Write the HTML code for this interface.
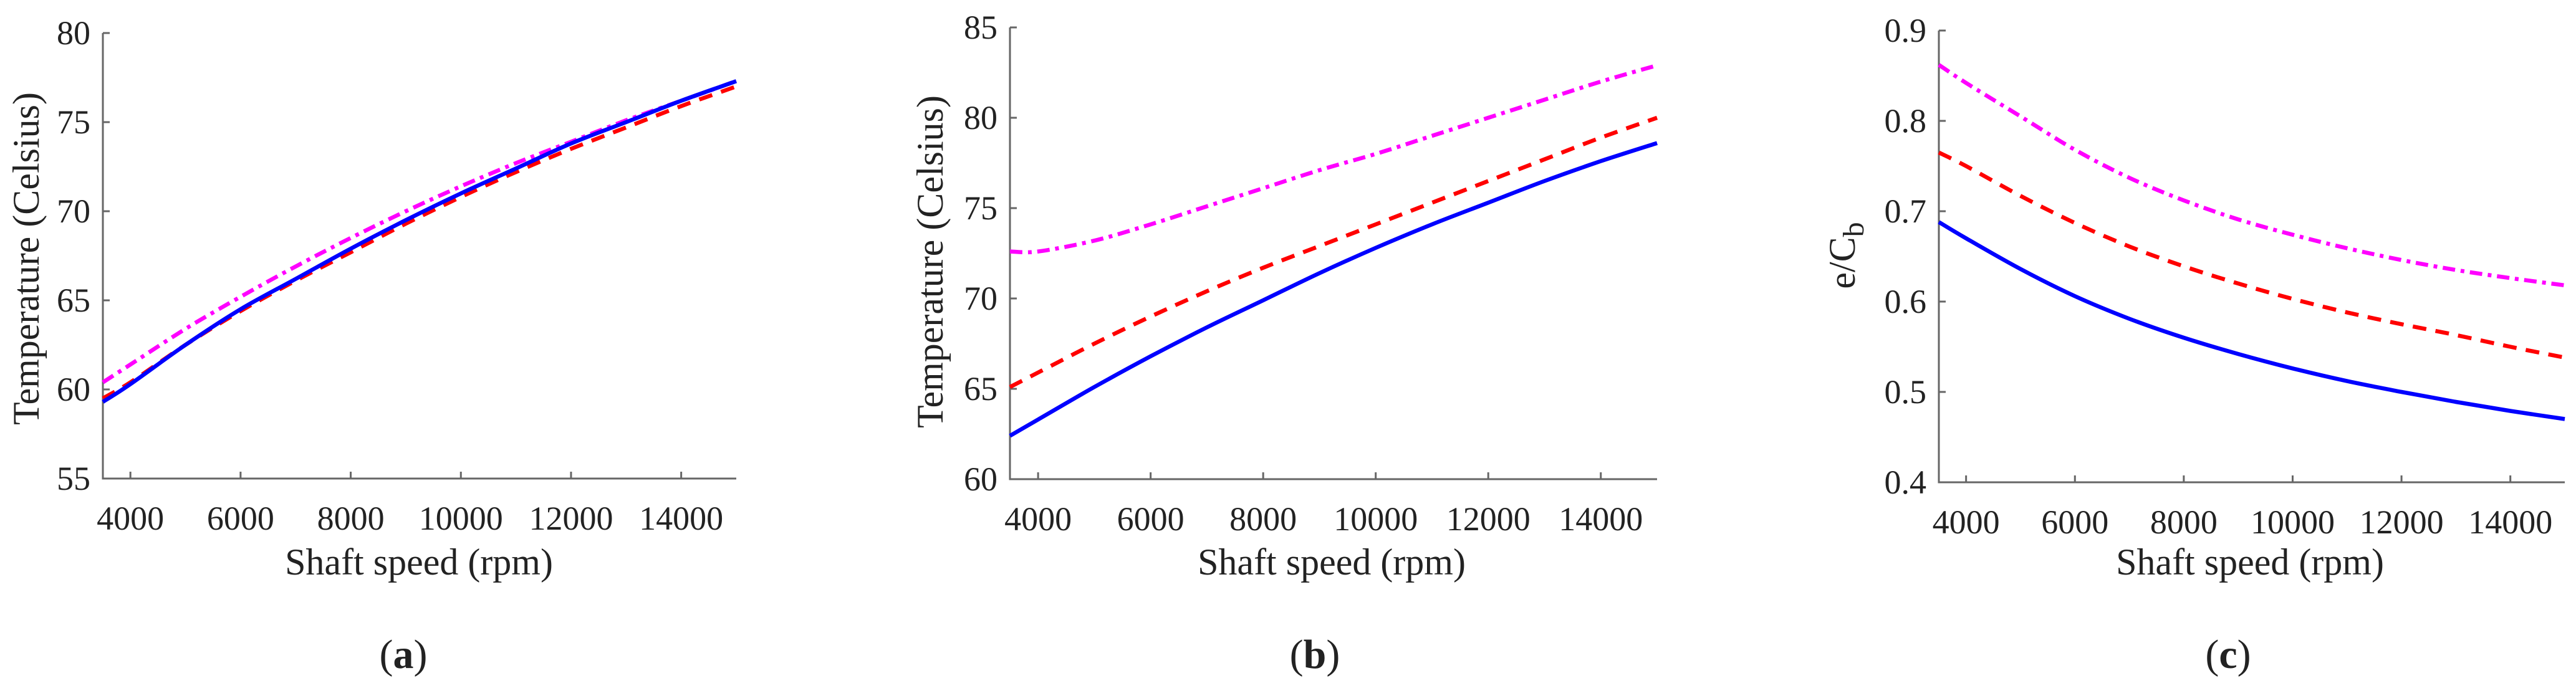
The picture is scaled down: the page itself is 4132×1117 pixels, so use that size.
<!DOCTYPE html>
<html><head><meta charset="utf-8">
<style>
html,body{margin:0;padding:0;background:#fff;}
svg{display:block;}
svg text{font-family:"Liberation Serif","Times New Roman","DejaVu Serif",serif;fill:#222;}
</style></head>
<body>
<svg id="fig" width="4132" height="1117" viewBox="0 0 4132 1117" xmlns="http://www.w3.org/2000/svg"></svg>
<script>
const speeds = [3500,4000,5000,6000,7000,8000,9000,10000,11000,12000,13000,14000,15000];
const xTicks = [4000,6000,8000,10000,12000,14000];

const aBlue = [59.3,60.3,62.5,64.5,66.2,67.9,69.5,71.0,72.4,73.8,75.0,76.2,77.3];
const aRed = [59.5,60.4,62.5,64.4,66.1,67.7,69.3,70.8,72.2,73.5,74.7,75.9,77.0];
const aMagenta = [60.4,61.4,63.4,65.2,66.9,68.5,70.0,71.4,72.7,73.9,75.1,76.2,77.3];
const aYTicks = [55,60,65,70,75,80];

const bBlue = [62.4,63.3,65.1,66.8,68.4,69.9,71.4,72.8,74.1,75.3,76.5,77.6,78.6];
const bRed = [65.1,65.9,67.5,69.0,70.4,71.7,72.9,74.1,75.3,76.5,77.7,78.9,80.0];
const bMagenta = [72.6,72.6,73.2,74.1,75.1,76.1,77.1,78.0,79.0,80.0,81.0,82.0,82.9];
const bYTicks = [60,65,70,75,80,85];

const cBlue = [0.688,0.670,0.636,0.606,0.581,0.560,0.542,0.526,0.512,0.500,0.489,0.479,0.470];
const cRed = [0.765,0.750,0.717,0.687,0.661,0.639,0.620,0.603,0.588,0.575,0.563,0.550,0.538];
const cMagenta = [0.862,0.842,0.805,0.768,0.737,0.712,0.691,0.674,0.659,0.646,0.635,0.626,0.618];
const cYTicks = [0.4,0.5,0.6,0.7,0.8,0.9];
const cYTickLabels = ["0.4","0.5","0.6","0.7","0.8","0.9"];

const svg = document.getElementById('fig');
const NS = 'http://www.w3.org/2000/svg';
const FF = '"Liberation Serif","Times New Roman","DejaVu Serif",serif';
function mk(tag, attrs){ const e=document.createElementNS(NS,tag); for(const k in attrs) e.setAttribute(k,attrs[k]); if(tag==='text') e.setAttribute('font-family',FF); return e; }

function smoothPath(pts){
  let d='M'+pts[0][0].toFixed(1)+','+pts[0][1].toFixed(1);
  for(let i=0;i<pts.length-1;i++){
    const p0=pts[i-1]||pts[i], p1=pts[i], p2=pts[i+1], p3=pts[i+2]||p2;
    const c1x=p1[0]+(p2[0]-p0[0])/6, c1y=p1[1]+(p2[1]-p0[1])/6;
    const c2x=p2[0]-(p3[0]-p1[0])/6, c2y=p2[1]-(p3[1]-p1[1])/6;
    d+=` C${c1x.toFixed(1)},${c1y.toFixed(1)} ${c2x.toFixed(1)},${c2y.toFixed(1)} ${p2[0].toFixed(1)},${p2[1].toFixed(1)}`;
  }
  return d;
}

function panel(p){
  const g = mk('g',{});
  
  
  svg.appendChild(g);
  const xs = v => p.x0 + (v-3500)/(15000-3500)*(p.x1-p.x0);
  const ys = v => p.y1 - (v-p.ymin)/(p.ymax-p.ymin)*(p.y1-p.y0);
  const ax = mk('path',{d:`M${p.x0},${p.y0} L${p.x0},${p.y1} L${p.x1},${p.y1}`,fill:'none',stroke:'#666','stroke-width':3});
  
  
  g.appendChild(ax);
  xTicks.forEach(t=>{
    const X=xs(t);
    const tk=mk('line',{x1:X,x2:X,y1:p.y1,y2:p.y1-11,stroke:'#666','stroke-width':3});
    
    
    g.appendChild(tk);
    const tl=mk('text',{x:X,y:p.y1+82,'font-size':54,'text-anchor':'middle'});
    tl.textContent=t;
    
    
    g.appendChild(tl);
  });
  p.yTicks.forEach((t,i)=>{
    const Y=ys(t);
    const tk=mk('line',{x1:p.x0,x2:p.x0+11,y1:Y,y2:Y,stroke:'#666','stroke-width':3});
    
    
    g.appendChild(tk);
    const tl=mk('text',{x:p.x0-20,y:Y+18,'font-size':54,'text-anchor':'end'});
    tl.textContent=p.yLabels?p.yLabels[i]:t;
    
    
    g.appendChild(tl);
  });
  const series=[
    {d:p.magenta,c:'#ff00ff',dash:'20 9 6 9',n:'magenta-dashdot'},
    {d:p.red,c:'#ff0000',dash:'22 15',n:'red-dashed'},
    {d:p.blue,c:'#0000ff',dash:'none',n:'blue-solid'}
  ];
  series.forEach(s=>{
    const pts=s.d.map((v,i)=>[xs(speeds[i]),ys(v)]);
    const pl=mk('path',{d:smoothPath(pts),fill:'none',stroke:s.c,'stroke-width':6.5,'stroke-dasharray':s.dash,'stroke-linejoin':'round'});
    
    
    g.appendChild(pl);
  });
  const xl=mk('text',{x:p.xlx,y:922,'font-size':60,'text-anchor':'middle'});
  xl.textContent='Shaft speed (rpm)';
  
  
  g.appendChild(xl);
  const yl=mk('text',{x:0,y:0,'font-size':60,'text-anchor':'middle',transform:`translate(${p.ylx},${p.yly}) rotate(-90)`});
  if(p.ylab==='ecb'){
    yl.textContent='e/C';
    const sub=mk('tspan',{dy:14,'font-size':48});
    sub.textContent='b';
    yl.appendChild(sub);
  } else yl.textContent=p.ylab;
  
  
  g.appendChild(yl);
  const cap=mk('text',{x:p.capx,y:1072,'font-size':66,'text-anchor':'middle'});
  cap.textContent='(';
  const b=mk('tspan',{'font-weight':'bold'});
  b.textContent=p.id;
  cap.appendChild(b);
  cap.appendChild(document.createTextNode(')'));
  
  
  g.appendChild(cap);
}

panel({id:'a',x0:165,x1:1181,y0:53,y1:768,ymin:55,ymax:80,yTicks:aYTicks,blue:aBlue,red:aRed,magenta:aMagenta,xlx:672,ylx:62,yly:415,ylab:'Temperature (Celsius)',capx:647});
panel({id:'b',x0:1620,x1:2658,y0:44,y1:769,ymin:60,ymax:85,yTicks:bYTicks,blue:bBlue,red:bRed,magenta:bMagenta,xlx:2136,ylx:1512,yly:420,ylab:'Temperature (Celsius)',capx:2109});
panel({id:'c',x0:3110,x1:4114,y0:49,y1:774,ymin:0.4,ymax:0.9,yTicks:cYTicks,yLabels:cYTickLabels,blue:cBlue,red:cRed,magenta:cMagenta,xlx:3609,ylx:2975,yly:410,ylab:'ecb',capx:3574});
</script>
</body></html>
